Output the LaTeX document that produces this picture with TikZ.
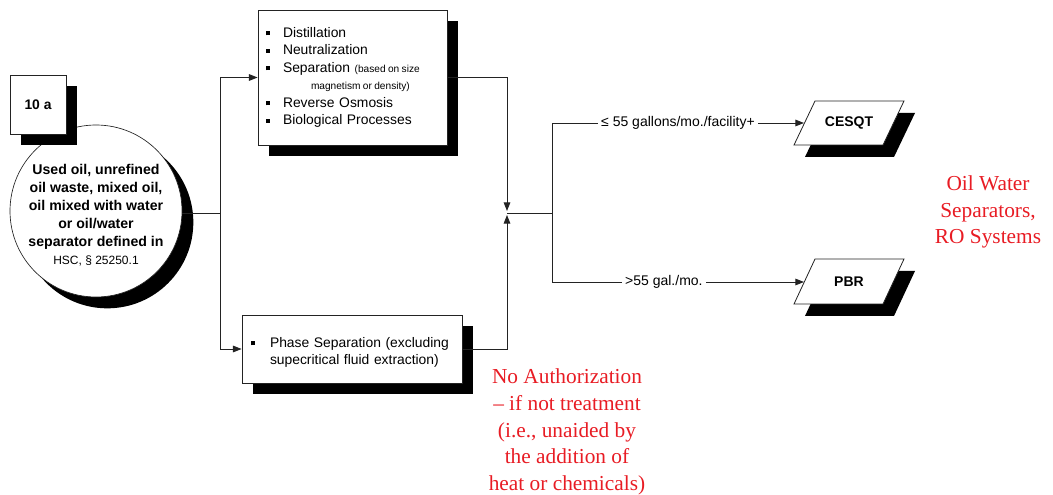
\documentclass[tikz,border=0pt]{standalone}
\usepackage{fontspec}
\setmainfont{Liberation Sans}
\newfontfamily\tnr{Liberation Serif}
\usetikzlibrary{arrows.meta,shadows}
\definecolor{redtxt}{RGB}{232,28,36}
\definecolor{ln}{RGB}{35,35,35}
\newcommand{\blt}{\rule[0.25ex]{3pt}{3pt}}
\newcommand{\smallnote}{\fontsize{7.6}{9}\selectfont\spaceskip=1.8pt\relax}
\begin{document}
\begin{tikzpicture}[x=0.75pt,y=-0.75pt,
  line/.style={draw=ln,line width=0.7pt},
  arr/.style={line,-{Triangle[length=6.5pt,width=5pt]}},
  shad/.style={drop shadow={shadow xshift=#1,shadow yshift=-#1,opacity=1,fill=black}},
  boxshape/.style={draw=ln,fill=white,line width=0.6pt,shad=8.5pt},
  boxfont/.style={font=\fontsize{10.4}{13.1}\selectfont},
  lbl/.style={fill=white,inner xsep=2.5pt,inner ysep=1pt,font=\fontsize{10.5}{12}\selectfont},
  ptxt/.style={font=\fontsize{10.5}{12}\selectfont\bfseries,inner sep=0pt},
  redtext/.style={font=\tnr\fontsize{16}{20}\selectfont,align=center,text=redtxt,inner sep=0pt}]
\useasboundingbox (0,0) rectangle (1053,495);

% source circle and label box
\node[circle,draw=ln,fill=white,line width=0.5pt,minimum size=129pt,inner sep=0pt,shad=8.5pt] (src) at (96,211) {};
\node[align=center,inner sep=0pt,font=\fontsize{10.6}{13.5}\selectfont\bfseries] (srctext) at (96,215)
  {Used oil, unrefined\\oil waste, mixed oil,\\oil mixed with water\\or oil/water\\separator defined in\\{\mdseries\fontsize{9}{13.5}\selectfont HSC, § 25250.1}};
\node[boxshape,minimum width=42pt,minimum height=44.25pt,inner sep=0pt,font=\fontsize{10.4}{12}\selectfont\bfseries] (tag) at (38,104.5) {10 a};

% treatment boxes
\node[boxshape,boxfont,minimum width=141.75pt,minimum height=101.25pt,inner xsep=6pt,text width=129.75pt,align=left] (b1) at (352.5,77.5)
  {\begin{tabular}{@{}p{12.75pt}@{}l@{}}
   \blt & Distillation\\
   \blt & Neutralization\\
   \blt & Separation {\smallnote (based on size}\\
        & \hspace*{21pt}{\smallnote magnetism or density)}\\
   \blt & Reverse Osmosis\\
   \blt & Biological Processes
   \end{tabular}};
\node[boxshape,boxfont,minimum width=165pt,minimum height=51pt,inner xsep=6.75pt,text width=151.5pt,align=left] (b2) at (352,349)
  {\raisebox{-2.5pt}[\height][\depth]{\begin{tabular}{@{}p{14.25pt}@{}l@{}}
   \blt & Phase Separation (excluding\\
        & supecritical fluid extraction)
   \end{tabular}}};

% outcome parallelograms
\fill[black] (826,113) -- (915,113) -- (894,157) -- (805,157) -- cycle;
\draw[line,fill=white,line width=0.6pt] (815,101) -- (904,101) -- (883,145) -- (794,145) -- cycle;
\node[ptxt] (cesqt) at (849,123) {CESQT};
\coordinate (cesqtin) at (804,123);
\fill[black] (826,271) -- (915,271) -- (894,316) -- (805,316) -- cycle;
\draw[line,fill=white,line width=0.6pt] (815,259) -- (904,259) -- (883,304) -- (794,304) -- cycle;
\node[ptxt] (pbr) at (849,282) {PBR};
\coordinate (pbrin) at (804,282);

% connectors
\coordinate (split) at (220,213);
\coordinate (jtop) at (507,211);
\coordinate (jbot) at (507,215);
\coordinate (junc) at (507,213);
\coordinate (fork) at (552,213);
\draw[line] (src.east |- split) -- (split);
\draw[arr] (split) |- (b1.west);
\draw[arr] (split) |- (b2.west);
\draw[arr] (b1.east) -| (jtop);
\draw[arr] (b2.east) -| (jbot);
\draw[line] (junc) -- (fork);
\draw[arr] (fork) |- node[lbl,pos=0.75] (l1) {≤ 55 gallons/mo./facility+} (cesqtin);
\draw[arr] (fork) |- node[lbl,pos=0.722] (l2) {>55 gal./mo.} (pbrin);

% red annotations
\node[redtext] (ows) at (988,212) {Oil Water\\Separators,\\RO Systems};
\node[redtext] (noauth) at (567,432) {No Authorization\\– if not treatment\\(i.e., unaided by\\the addition of\\heat or chemicals)};
\end{tikzpicture}
\end{document}
